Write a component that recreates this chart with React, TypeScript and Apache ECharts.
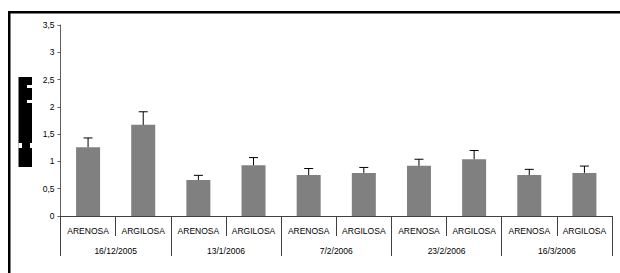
import React, { useEffect, useRef } from "react";
import * as echarts from "echarts";

const soilCategories = ["ARENOSA", "ARGILOSA", "ARENOSA", "ARGILOSA", "ARENOSA", "ARGILOSA", "ARENOSA", "ARGILOSA", "ARENOSA", "ARGILOSA"];
const dateCategories = ["16/12/2005", "13/1/2006", "7/2/2006", "23/2/2006", "16/3/2006"];
const meanValues = [1.26, 1.67, 0.66, 0.93, 0.75, 0.79, 0.92, 1.04, 0.75, 0.79];
const errorValues = [0.17, 0.24, 0.085, 0.14, 0.12, 0.1, 0.12, 0.16, 0.105, 0.125];

export default function App() {
  const ref = useRef<HTMLDivElement>(null);
  useEffect(() => {
    if (!ref.current) return;
    const chart = echarts.init(ref.current, null, { renderer: "svg" });
    const font = "Liberation Sans, Arial, sans-serif";
    chart.setOption({
      animation: false,
      backgroundColor: "#ffffff",
      grid: { left: 60.5, right: 8, top: 25, bottom: 57, containLabel: false },
      xAxis: [
        {
          type: "category",
          data: soilCategories,
          position: "bottom",
          axisLine: { show: true, lineStyle: { color: "#404040", width: 1 } },
          axisTick: { show: true, length: 20, interval: 0, lineStyle: { color: "#404040" } },
          axisLabel: { interval: 0, margin: 10, fontSize: 8.5, color: "#000", fontFamily: font },
          splitLine: { show: false },
        },
        {
          type: "category",
          data: dateCategories,
          position: "bottom",
          axisLine: { show: false },
          axisTick: { show: true, length: 40, interval: 0, lineStyle: { color: "#404040" } },
          axisLabel: { interval: 0, margin: 30, fontSize: 8.5, color: "#000", fontFamily: font },
          splitLine: { show: false },
        },
      ],
      yAxis: {
        type: "value",
        min: 0,
        max: 3.5,
        interval: 0.5,
        axisLine: { show: true, lineStyle: { color: "#606060", width: 1 } },
        axisTick: { show: true, length: 3, inside: false, lineStyle: { color: "#606060" } },
        axisLabel: {
          fontSize: 8.5,
          color: "#000",
          fontFamily: font,
          margin: 6,
          formatter: (v: number) => String(v).replace(".", ","),
        },
        splitLine: { show: false },
      },
      series: [
        {
          type: "bar",
          data: meanValues,
          barWidth: 24,
          itemStyle: { color: "#808080" },
          xAxisIndex: 0,
        },
        {
          type: "custom",
          xAxisIndex: 0,
          data: meanValues.map((m, i) => [i, m, m + errorValues[i]]),
          z: 5,
          renderItem: (params: any, api: any) => {
            const x = api.value(0);
            const p0 = api.coord([x, api.value(1)]);
            const p1 = api.coord([x, api.value(2)]);
            const half = 4.5;
            return {
              type: "group",
              children: [
                {
                  type: "line",
                  shape: { x1: p0[0], y1: p0[1], x2: p1[0], y2: p1[1] },
                  style: { stroke: "#000", lineWidth: 1 },
                },
                {
                  type: "line",
                  shape: { x1: p1[0] - half, y1: p1[1], x2: p1[0] + half, y2: p1[1] },
                  style: { stroke: "#000", lineWidth: 1 },
                },
              ],
            };
          },
        },
      ],
      graphic: [
        { type: "rect", shape: { x: 8, y: 11, width: 620, height: 2.5 }, style: { fill: "#000" } },
        { type: "rect", shape: { x: 8, y: 11, width: 2.5, height: 270 }, style: { fill: "#000" } },
        { type: "rect", shape: { x: 18.5, y: 77, width: 13.5, height: 90 }, style: { fill: "#000" } },
        { type: "rect", shape: { x: 27, y: 85, width: 5, height: 3 }, style: { fill: "#fff" } },
        { type: "rect", shape: { x: 27, y: 100, width: 5, height: 3 }, style: { fill: "#fff" } },
        { type: "rect", shape: { x: 18.5, y: 143, width: 3.5, height: 5 }, style: { fill: "#fff" } },
        { type: "rect", shape: { x: 30, y: 143, width: 2, height: 5 }, style: { fill: "#fff" } },
      ],
    });
    return () => chart.dispose();
  }, []);
  return <div ref={ref} style={{ position: "absolute", left: 0, top: 0, width: 620, height: 273 }} />;
}
